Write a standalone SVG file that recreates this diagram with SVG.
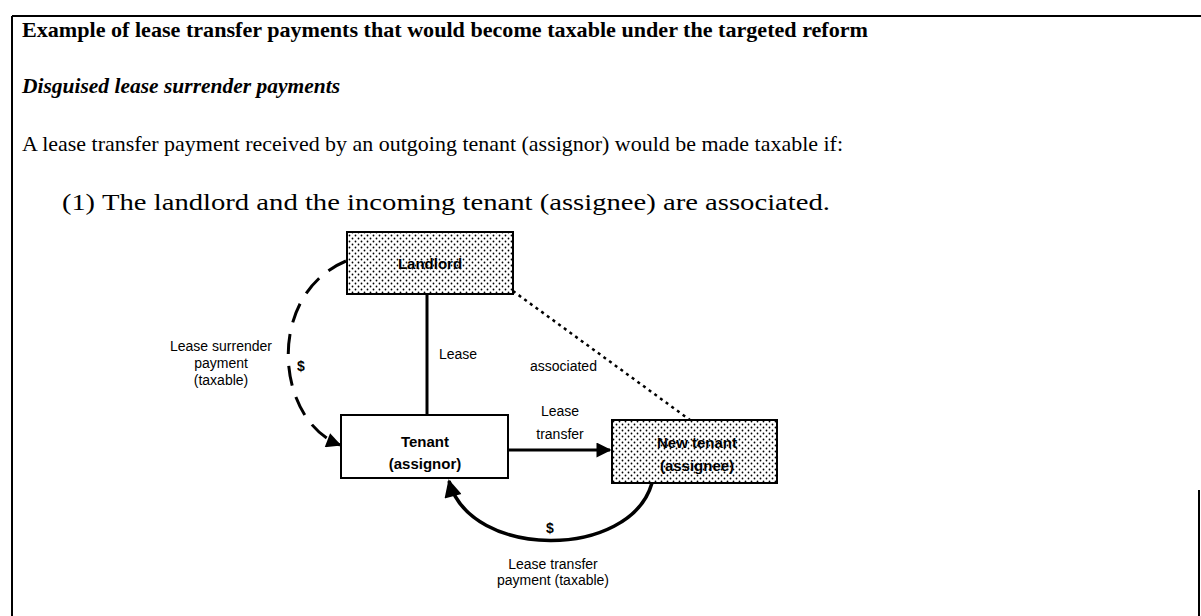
<svg xmlns="http://www.w3.org/2000/svg" width="1201" height="616" viewBox="0 0 1201 616">
<style>
.serif{font-family:"Liberation Serif","Times New Roman",serif;fill:#000}
.sans{font-family:"Liberation Sans",Arial,sans-serif;fill:#000}
.box{stroke:#000;stroke-width:2}
.node{font-family:"Liberation Sans",Arial,sans-serif;font-weight:bold;font-size:15px;text-anchor:middle;fill:#000}
.lbl{font-family:"Liberation Sans",Arial,sans-serif;font-size:14px;text-anchor:middle;fill:#000}
.conn{fill:none;stroke:#000}
</style>
<defs>
<pattern id="dots" width="6" height="6" patternUnits="userSpaceOnUse">
<rect width="6" height="6" fill="#fff"/>
<circle cx="1.5" cy="1.5" r="0.9" fill="#000"/>
<circle cx="4.5" cy="4.5" r="0.9" fill="#000"/>
</pattern>
<marker id="ah" viewBox="0 0 10 10" refX="9" refY="5" markerWidth="6" markerHeight="5" markerUnits="strokeWidth" orient="auto">
<path d="M0,0 L10,5 L0,10 z" fill="#000"/>
</marker>
</defs>
<rect width="1201" height="616" fill="#fff"/>
<g id="frame" stroke="#000" stroke-width="2" fill="none">
<line x1="12" y1="16" x2="1201" y2="16"/>
<line x1="12" y1="16" x2="12" y2="616"/>
<line x1="1199" y1="490" x2="1199" y2="616"/>
</g>
<g id="texts">
<text class="serif" x="22" y="37" font-size="22" font-weight="bold" textLength="846" lengthAdjust="spacingAndGlyphs">Example of lease transfer payments that would become taxable under the targeted reform</text>
<text class="serif" x="22" y="93" font-size="22" font-weight="bold" font-style="italic" textLength="318" lengthAdjust="spacingAndGlyphs">Disguised lease surrender payments</text>
<text class="serif" x="22" y="151" font-size="22" textLength="821" lengthAdjust="spacingAndGlyphs">A lease transfer payment received by an outgoing tenant (assignor) would be made taxable if:</text>
<text class="serif" x="62" y="210" font-size="23" textLength="33" lengthAdjust="spacingAndGlyphs">(1)</text>
<text class="serif" x="102" y="210" font-size="23" textLength="728" lengthAdjust="spacingAndGlyphs">The landlord and the incoming tenant (assignee) are associated.</text>
</g>
<g id="connectors">
<line class="conn" x1="427" y1="294" x2="427" y2="415" stroke-width="3"/>
<line class="conn" x1="513" y1="291" x2="690" y2="420" stroke-width="2.5" stroke-dasharray="3,4"/>
<line class="conn" x1="508" y1="450" x2="610" y2="450" stroke-width="3" marker-end="url(#ah)"/>
<path class="conn" d="M346 261 C265 295 275 420 340 445" stroke-width="3" stroke-dasharray="20,12" marker-end="url(#ah)"/>
<path class="conn" d="M652 483 C630 560 470 560 449 481" stroke-width="3.5" marker-end="url(#ah)"/>
<text class="sans" x="439" y="359" font-size="14">Lease</text>
<text class="sans" x="530" y="371" font-size="14">associated</text>
<text class="sans" x="560" y="416" font-size="14" text-anchor="middle">Lease</text>
<text class="sans" x="560" y="439" font-size="14" text-anchor="middle">transfer</text>
<text class="sans" x="301" y="371" font-size="14" font-weight="bold" text-anchor="middle">$</text>
<text class="lbl" x="221" y="351">Lease surrender</text>
<text class="lbl" x="221" y="368">payment</text>
<text class="lbl" x="221" y="385">(taxable)</text>
<text class="sans" x="550" y="533" font-size="14" font-weight="bold" text-anchor="middle">$</text>
<text class="lbl" x="553" y="569">Lease transfer</text>
<text class="lbl" x="553" y="585">payment (taxable)</text>
</g>
<g id="landlord">
<rect class="box" x="347" y="232" width="166" height="62" fill="url(#dots)"/>
<text class="node" x="430" y="269">Landlord</text>
</g>
<g id="tenant">
<rect class="box" x="341" y="415" width="167" height="63" fill="#fff"/>
<text class="node" x="425" y="447">Tenant</text>
<text class="node" x="425" y="469">(assignor)</text>
</g>
<g id="newtenant">
<rect class="box" x="612" y="420" width="165" height="63" fill="url(#dots)"/>
<text class="node" x="697" y="448">New tenant</text>
<text class="node" x="697" y="471">(assignee)</text>
</g>
</svg>
